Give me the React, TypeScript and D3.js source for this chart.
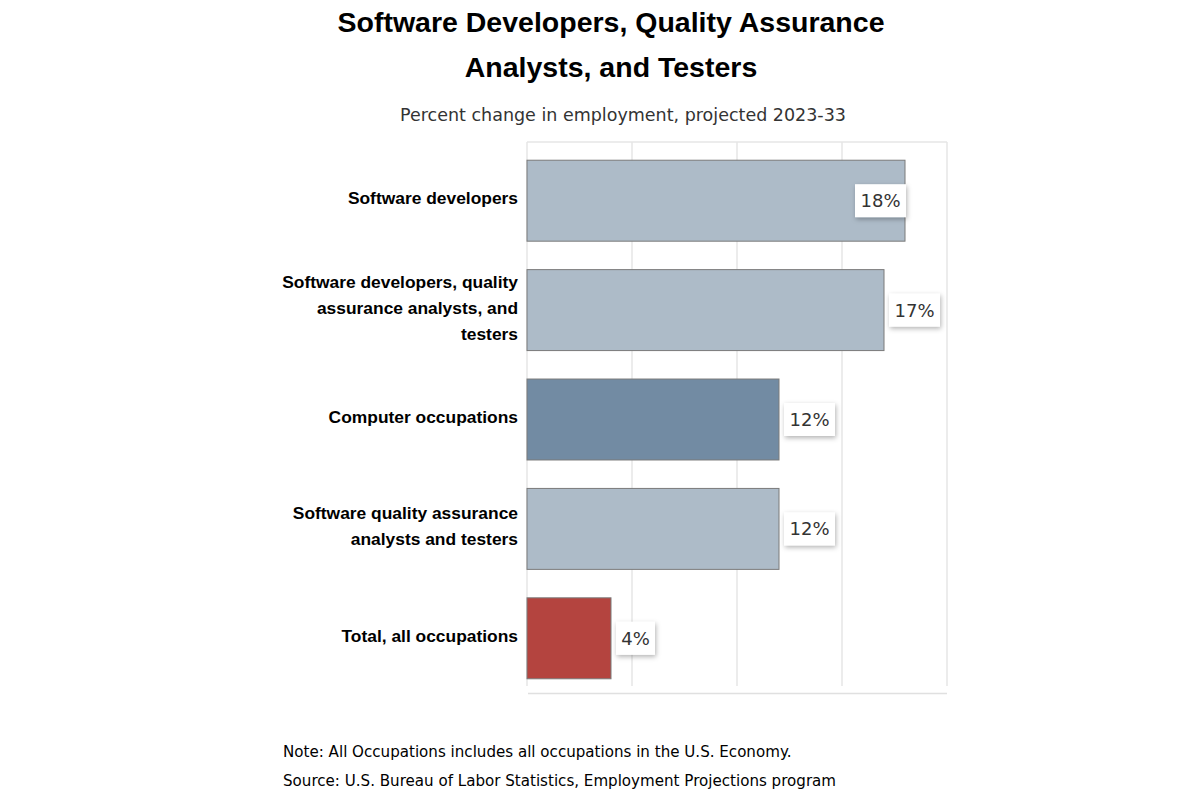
import React from "react";
import * as d3 from "d3";

const categories: string[][] = [
  ["Software developers"],
  ["Software developers, quality", "assurance analysts, and", "testers"],
  ["Computer occupations"],
  ["Software quality assurance", "analysts and testers"],
  ["Total, all occupations"],
];
const values = [18, 17, 12, 12, 4];
const barColors = ["#adbbc8", "#adbbc8", "#728ba3", "#adbbc8", "#b4443f"];
const xTicks = [0, 5, 10, 15, 20];

const titleLines = ["Software Developers, Quality Assurance", "Analysts, and Testers"];
const subtitle = "Percent change in employment, projected 2023-33";
const notes = [
  "Note: All Occupations includes all occupations in the U.S. Economy.",
  "Source: U.S. Bureau of Labor Statistics, Employment Projections program",
];

export default function App() {
  const W = 1200, H = 800;
  const left = 527, right = 947, top = 146, bottom = 693;
  const x = d3.scaleLinear().domain([0, 20]).range([left, right]);
  const y = d3.scaleBand<number>().domain(d3.range(values.length)).range([top, bottom]).paddingInner(0.26).paddingOuter(0.13);
  const labelFont = "'DejaVu Sans', Verdana, sans-serif";
  const boldFont = "'Liberation Sans', Arial, sans-serif";
  return (
    <svg width={W} height={H} style={{ position: "absolute", left: 0, top: 0, background: "#fff" }}>
      <defs>
        <filter id="sh" x="-50%" y="-50%" width="200%" height="200%">
          <feDropShadow dx="1" dy="2" stdDeviation="2.5" floodColor="#000" floodOpacity="0.3" />
        </filter>
      </defs>
      <rect width={W} height={H} fill="#fff" />
      {titleLines.map((t, i) => (
        <text key={i} x={611} y={32 + i * 45} textAnchor="middle" fontFamily={boldFont} fontWeight="bold" fontSize={28.5} fill="#000">{t}</text>
      ))}
      <text x={623} y={121} textAnchor="middle" fontFamily={labelFont} fontSize={17.5} fill="#333">{subtitle}</text>
      <line x1={left} x2={right} y1={142} y2={142} stroke="#e6e6e6" strokeWidth={1.5} />
      {xTicks.map((t) => (
        <line key={t} x1={x(t)} x2={x(t)} y1={142} y2={686} stroke="#e6e6e6" strokeWidth={1.5} />
      ))}
      <line x1={left + 1} x2={right} y1={693.5} y2={693.5} stroke="#e0e0e0" strokeWidth={1.5} />
      {values.map((v, i) => (
        <rect key={i} x={x(0)} y={y(i)!} width={x(v) - x(0)} height={y.bandwidth()} fill={barColors[i]} stroke="#7a7a7a" strokeWidth={1} />
      ))}
      {categories.map((lines, i) => {
        const cy = y(i)! + y.bandwidth() / 2;
        const lh = 26;
        const y0 = cy - ((lines.length - 1) * lh) / 2 + 3.5;
        return lines.map((l, j) => (
          <text key={i + "-" + j} x={518} y={y0 + j * lh} textAnchor="end" fontFamily={boldFont} fontWeight="bold" fontSize={17.4} fill="#000">{l}</text>
        ));
      })}
      {values.map((v, i) => {
        const label = v + "%";
        const bw = label.length === 3 ? 51 : 39;
        const bh = 33;
        let bx = x(v) + 5;
        if (bx + bw > right) bx = x(v) - bw + 1;
        const cy = y(i)! + y.bandwidth() / 2;
        return (
          <g key={i}>
            <rect x={bx} y={cy - bh / 2} width={bw} height={bh} fill="#fff" filter="url(#sh)" />
            <text x={bx + bw / 2} y={cy + 6.5} textAnchor="middle" fontFamily={labelFont} fontSize={18} fill="#333">{label}</text>
          </g>
        );
      })}
      {notes.map((n, i) => (
        <text key={i} x={283} y={757 + i * 29} fontFamily={labelFont} fontSize={15.1} fill="#000">{n}</text>
      ))}
    </svg>
  );
}
